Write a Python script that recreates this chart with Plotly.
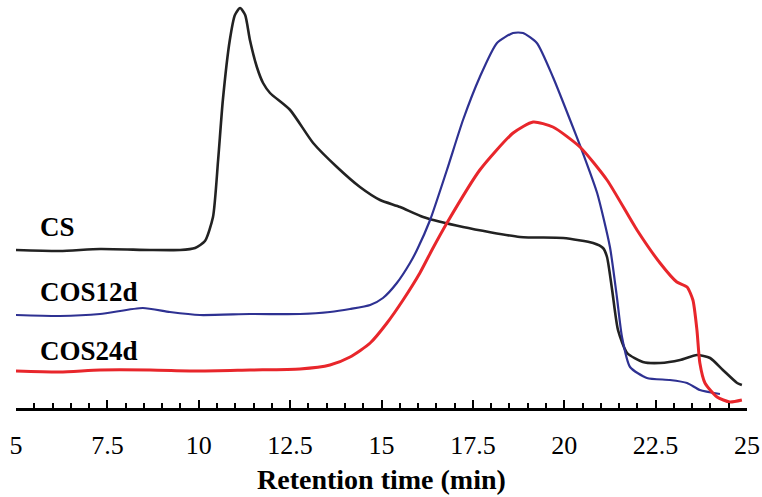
import plotly.graph_objects as go

# Retention time (min) and detector signal (arbitrary units)
cs_x = [5.00, 6.20, 7.30, 8.67, 9.49, 9.90, 10.17, 10.39, 10.53, 10.66, 10.85, 10.99, 11.13, 11.27,
        11.40, 11.59, 11.76, 11.95, 12.50, 13.13, 13.78, 14.41, 14.96, 15.51, 16.14, 17.23, 18.79,
        19.97, 20.79, 21.06, 21.17, 21.31, 21.47, 21.72, 22.15, 22.62, 23.17, 23.63, 23.99, 24.34,
        24.73, 24.86]
cs_y = [158, 157, 159, 158, 158, 160, 167, 191, 248, 308, 368, 393, 400, 393,
        368, 341, 325, 315, 298, 265, 241, 221, 208, 201, 191, 181, 171,
        170, 165, 160, 151, 118, 78, 55, 46, 45, 48, 53, 50, 38,
        25, 23]

cos12_x = [5.00, 6.20, 7.30, 8.47, 9.21, 10.03, 11.40, 12.77, 13.59, 14.14, 14.69, 15.04, 15.42,
           15.78, 15.97, 16.33, 16.79, 17.23, 17.69, 18.16, 18.60, 18.87, 19.25, 19.69, 20.16,
           20.51, 20.90, 21.25, 21.44, 21.58, 21.80, 22.26, 22.89, 23.36, 23.71, 24.26]
cos12_y = [93, 92, 94, 100, 96, 93, 94, 94, 96, 99, 103, 110, 125,
           145, 158, 188, 238, 288, 331, 365, 375, 375, 365, 331, 288,
           255, 215, 161, 111, 71, 41, 30, 28, 25, 18, 14]

cos24_x = [5.00, 6.20, 7.30, 8.67, 10.03, 11.40, 12.77, 13.59, 14.14, 14.69, 15.15, 15.59, 16.05,
           16.38, 16.79, 17.69, 18.60, 19.15, 19.69, 20.43, 21.17, 21.99, 22.62, 23.08, 23.36,
           23.52, 23.63, 23.71, 23.85, 24.18, 24.53, 24.86]
cos24_y = [37, 36, 38, 38, 37, 38, 39, 43, 51, 65, 85, 108, 135,
           158, 185, 238, 275, 286, 281, 261, 228, 178, 145, 126, 121,
           108, 78, 45, 25, 11, 6, 8]

tick_vals = [5, 7.5, 10, 12.5, 15, 17.5, 20, 22.5, 25]
tick_text = ["5", "7.5", "10", "12.5", "15", "17.5", "20", "22.5", "25"]

series_names = ["CS", "COS12d", "COS24d"]
label_y = [181, 116, 57]

serif = "Liberation Serif, Times New Roman, serif"

fig = go.Figure()
fig.add_trace(go.Scatter(x=cs_x, y=cs_y, mode="lines", name=series_names[0],
                         line=dict(color="#222222", width=2.6, shape="spline", smoothing=0.6)))
fig.add_trace(go.Scatter(x=cos12_x, y=cos12_y, mode="lines", name=series_names[1],
                         line=dict(color="#2e3192", width=2.2, shape="spline", smoothing=0.6)))
fig.add_trace(go.Scatter(x=cos24_x, y=cos24_y, mode="lines", name=series_names[2],
                         line=dict(color="#e8262b", width=3, shape="spline", smoothing=0.6)))

for name, ly in zip(series_names, label_y):
    fig.add_annotation(x=5.6, y=ly, xref="x", yref="y", text="<b>%s</b>" % name,
                       showarrow=False, xanchor="left", yanchor="middle",
                       font=dict(family=serif, size=27, color="black"))

fig.add_annotation(x=0.5, y=-0.176, xref="paper", yref="paper",
                   text="<b>Retention time (min)</b>", showarrow=False,
                   xanchor="center", yanchor="middle",
                   font=dict(family=serif, size=28, color="black"))

fig.update_layout(
    width=762, height=497,
    margin=dict(l=16, r=15, t=0, b=89, autoexpand=False),
    paper_bgcolor="white", plot_bgcolor="white",
    showlegend=False,
    xaxis=dict(range=[5, 25], tickmode="array", tickvals=tick_vals, ticktext=tick_text,
               ticks="inside", ticklen=8, tickwidth=2, tickcolor="black",
               minor=dict(dtick=0.5, ticks="inside", ticklen=5, tickwidth=2, tickcolor="black"),
               showline=True, linewidth=3, linecolor="black",
               showgrid=False, zeroline=False, automargin=False,
               tickfont=dict(family=serif, size=26, color="black"),
               ticklabelstandoff=12),
    yaxis=dict(range=[0, 408], visible=False, showgrid=False, zeroline=False, automargin=False),
)

fig.write_html("out.html", config={"displayModeBar": False},
               post_script="document.body.style.margin='0';document.body.style.overflow='hidden';")
